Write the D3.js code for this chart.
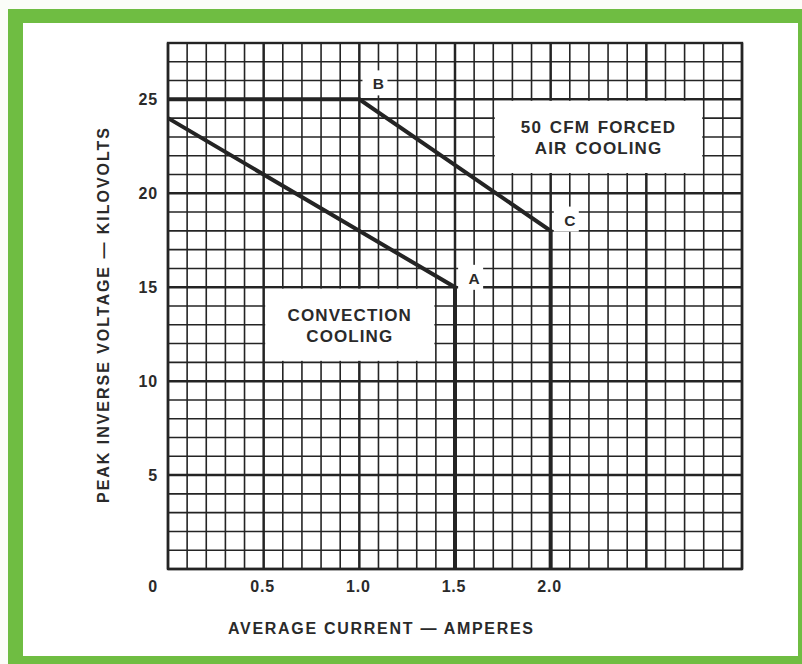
<!DOCTYPE html>
<html>
<head>
<meta charset="utf-8">
<script src="https://cdn.jsdelivr.net/npm/d3@7"></script>
<style>
  html, body { margin: 0; padding: 0; background: #ffffff; }
  svg { display: block; }
  text { font-family: "Liberation Sans", Arial, Helvetica, sans-serif; fill: #2a2a2a; }
</style>
</head>
<body>
<svg id="chart" width="802" height="664"></svg>
<script>
// ---------- data ----------
const convectionCurrent = [0, 1.5, 1.5];
const convectionVoltage = [24, 15, 0];
const forcedCurrent = [0, 1.0, 2.0, 2.0];
const forcedVoltage = [25, 25, 18, 0];

const xTickValues = [0, 0.5, 1.0, 1.5, 2.0];
const xTickLabels = ["0", "0.5", "1.0", "1.5", "2.0"];
const yTickValues = [5, 10, 15, 20, 25];
const yTickLabels = ["5", "10", "15", "20", "25"];

const pointNames = ["A", "B", "C"];
const pointCurrent = [1.6, 1.1, 2.1];
const pointVoltage = [15.5, 25.85, 18.6];

const regionLines = [["CONVECTION", "COOLING"], ["50 CFM FORCED", "AIR COOLING"]];
const regionCurrent = [[0.5, 1.4], [1.7, 2.8]];
const regionVoltage = [[11, 15], [21, 25]];

const xTitle = "AVERAGE CURRENT — AMPERES";
const yTitle = "PEAK INVERSE VOLTAGE — KILOVOLTS";

// ---------- layout ----------
const W = 802, H = 664;
const svg = d3.select("#chart");
const green = "#6fbd42";
const ink = "#242424";

svg.append("rect").attr("x", 0).attr("y", 0).attr("width", W).attr("height", H).attr("fill", "#fbfdf8");
svg.append("rect").attr("x", 8).attr("y", 9).attr("width", W - 8).attr("height", H - 9).attr("fill", green);
svg.append("rect").attr("x", 23).attr("y", 23).attr("width", 775).attr("height", 633).attr("fill", "#ffffff");

const x = d3.scaleLinear().domain([0, 3]).range([168, 742]);
const y = d3.scaleLinear().domain([0, 28]).range([569, 43]);

// ---------- grid ----------
const grid = svg.append("g");
const xGrid = d3.range(0, 31).map(i => i / 10);
const yGrid = d3.range(0, 29);
grid.selectAll("line.v").data(xGrid).join("line")
  .attr("x1", d => x(d)).attr("x2", d => x(d))
  .attr("y1", y(0)).attr("y2", y(28))
  .attr("stroke", ink)
  .attr("stroke-width", (d, i) => i % 5 === 0 ? 2.5 : 1.6);
grid.selectAll("line.h").data(yGrid).join("line")
  .attr("y1", d => y(d)).attr("y2", d => y(d))
  .attr("x1", x(0)).attr("x2", x(3))
  .attr("stroke", ink)
  .attr("stroke-width", d => d % 5 === 0 ? 2.5 : 1.6);
grid.append("rect")
  .attr("x", x(0)).attr("y", y(28))
  .attr("width", x(3) - x(0)).attr("height", y(0) - y(28))
  .attr("fill", "none").attr("stroke", ink).attr("stroke-width", 2.4);

// ---------- region boxes ----------
regionLines.forEach((lines, i) => {
  const x0 = x(regionCurrent[i][0]), x1 = x(regionCurrent[i][1]);
  const y0 = y(regionVoltage[i][1]), y1 = y(regionVoltage[i][0]);
  svg.append("rect")
    .attr("x", x0 + 1.5).attr("y", y0 + 1.5)
    .attr("width", x1 - x0 - 3).attr("height", y1 - y0 - 3)
    .attr("fill", "#ffffff");
  const cx = (x0 + x1) / 2, cy = (y0 + y1) / 2;
  lines.forEach((t, j) => {
    svg.append("text")
      .attr("x", cx).attr("y", cy + (j - 0.5) * 21.5 + 6.5)
      .attr("text-anchor", "middle")
      .attr("font-size", 17).attr("font-weight", "bold")
      .attr("letter-spacing", 1.1)
      .attr("word-spacing", 2)
      .text(t);
  });
});

// ---------- point labels ----------
pointNames.forEach((n, i) => {
  const px = x(pointCurrent[i]), py = y(pointVoltage[i]);
  svg.append("rect")
    .attr("x", px - 16).attr("y", py - 13)
    .attr("width", 25).attr("height", 25)
    .attr("fill", "#ffffff");
  svg.append("text")
    .attr("x", px).attr("y", py + 6)
    .attr("text-anchor", "middle")
    .attr("font-size", 15.5).attr("font-weight", "bold")
    .text(n);
});

// ---------- curves ----------
const line = d3.line().x(d => x(d[0])).y(d => y(d[1]));
svg.append("path")
  .attr("d", line(convectionCurrent.map((c, i) => [c, convectionVoltage[i]])))
  .attr("fill", "none").attr("stroke", ink).attr("stroke-width", 4)
  .attr("stroke-linejoin", "miter");
svg.append("path")
  .attr("d", line(forcedCurrent.map((c, i) => [c, forcedVoltage[i]])))
  .attr("fill", "none").attr("stroke", ink).attr("stroke-width", 4)
  .attr("stroke-linejoin", "miter");

// ---------- axes labels ----------
svg.selectAll("text.xt").data(xTickValues).join("text")
  .attr("class", "xt")
  .attr("x", (d, i) => x(d) + (i === 0 ? -15 : -1))
  .attr("y", 592)
  .attr("text-anchor", "middle")
  .attr("font-size", 16).attr("font-weight", "bold")
  .attr("letter-spacing", 0.8)
  .text((d, i) => xTickLabels[i]);

svg.selectAll("text.yt").data(yTickValues).join("text")
  .attr("class", "yt")
  .attr("x", 158)
  .attr("y", d => y(d) + 6)
  .attr("text-anchor", "end")
  .attr("font-size", 16).attr("font-weight", "bold")
  .attr("letter-spacing", 0.8)
  .text((d, i) => yTickLabels[i]);

svg.append("text")
  .attr("x", 228).attr("y", 634)
  .attr("font-size", 16).attr("font-weight", "bold")
  .attr("textLength", 305).attr("lengthAdjust", "spacing")
  .text(xTitle);

svg.append("text")
  .attr("transform", "translate(109,503) rotate(-90)")
  .attr("x", 0).attr("y", 0)
  .attr("font-size", 16).attr("font-weight", "bold")
  .attr("textLength", 375).attr("lengthAdjust", "spacing")
  .text(yTitle);
</script>
</body>
</html>
